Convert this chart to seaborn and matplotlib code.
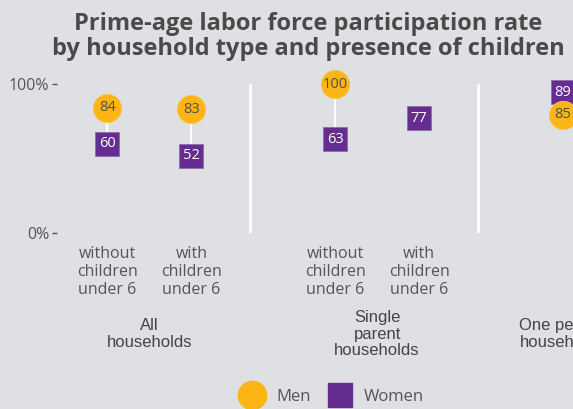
import numpy as np
import pandas as pd
import seaborn as sns
import matplotlib.pyplot as plt
import matplotlib.transforms as mtransforms
from matplotlib.lines import Line2D

# ---------------- data ----------------
groups = ["All\nhouseholds", "Single\nparent\nhouseholds", "One person\nhouseholds"]
col_labels = ["without\nchildren\nunder 6", "with\nchildren\nunder 6",
              "without\nchildren\nunder 6", "with\nchildren\nunder 6", ""]
group_idx = [0, 0, 1, 1, 2]
col_idx = [0, 1, 0, 1, 0]
men = [84, 83, 100, np.nan, 85]
women = [60, 52, 63, 77, 89]
y_ticks = [0, 100]
y_tick_labels = ["0%", "100%"]

# ---------------- style ----------------
BG = "#DFE0E3"
GOLD = "#FDB515"
PURPLE = "#662D91"
TXT = "#555555"
TITLE = "#4A4A4A"
FACET_STEP = 2.712
SEP_OFF = 1.70
MIN_GAP = 15.0

fig = plt.figure(figsize=(5.73, 4.09), dpi=100)
fig.patch.set_facecolor(BG)
ax = fig.add_axes([57 / 573, (409 - 233) / 409, (573 - 57) / 573, 149 / 409])
ax.set_facecolor(BG)

xpos = [g * FACET_STEP + c for g, c in zip(group_idx, col_idx)]

# nudge overlapping markers apart (display positions only)
men_y, women_y = [], []
for m, w in zip(men, women):
    if not np.isnan(m) and abs(m - w) < MIN_GAP:
        mid = (m + w) / 2
        sgn = 1 if w >= m else -1
        women_y.append(mid + sgn * MIN_GAP / 2)
        men_y.append(mid - sgn * MIN_GAP / 2)
    else:
        men_y.append(m)
        women_y.append(w)

df_w = pd.DataFrame({"x": xpos, "y": women_y, "v": women})
df_m = pd.DataFrame({"x": xpos, "y": men_y, "v": men}).dropna()

# separators
ax.vlines([g * FACET_STEP + SEP_OFF for g in range(2)], 0, 100,
          color="white", lw=2, zorder=0)
# connectors
for x, m, w in zip(xpos, men_y, women_y):
    if not np.isnan(m):
        ax.vlines(x, min(m, w), max(m, w), color="white", lw=1.5, zorder=1)

sns.scatterplot(data=df_w, x="x", y="y", marker="s", s=24.7 ** 2 * 0.5184,
                color=PURPLE, edgecolor="#8E6AAE", linewidth=0.6, ax=ax,
                zorder=3, clip_on=False, legend=False)
sns.scatterplot(data=df_m, x="x", y="y", marker="o", s=28.3 ** 2 * 0.5184,
                color=GOLD, edgecolor="#FCC64A", linewidth=0.6, ax=ax,
                zorder=4, clip_on=False, legend=False)

for _, r in df_w.iterrows():
    ax.text(r.x, r.y, f"{r.v:.0f}", ha="center", va="center", fontsize=10.5,
            color="white", family="Open Sans", zorder=5, clip_on=False)
for _, r in df_m.iterrows():
    ax.text(r.x, r.y, f"{r.v:.0f}", ha="center", va="center", fontsize=10.5,
            color="#505050", family="Open Sans", zorder=6, clip_on=False)

ax.set_xlim(-0.599, 5.544)
ax.set_ylim(0, 100)
for s in ax.spines.values():
    s.set_visible(False)
ax.set_xlabel("")
ax.set_ylabel("")

ax.set_yticks(y_ticks)
ax.set_yticklabels(y_tick_labels, family="Open Sans")
ax.tick_params(axis="y", length=3.5, width=1, color=TXT, pad=2,
               labelsize=11.5, labelcolor=TXT)
ax.set_xticks(xpos)
ax.set_xticklabels(col_labels, family="Open Sans")
ax.tick_params(axis="x", length=0, pad=9, labelsize=11.5, labelcolor=TXT)

trans = mtransforms.blended_transform_factory(ax.transData, fig.transFigure)
for g, lab in enumerate(groups):
    xs = [x for x, gi in zip(xpos, group_idx) if gi == g]
    ax.text(np.mean(xs), (409 - 334) / 409, lab, transform=trans, ha="center",
            va="center", fontsize=12, family="Liberation Sans", color="#444444",
            linespacing=1.1, clip_on=False)

fig.text(308 / 573, (409 - 30) / 409, "Prime-age labor force participation rate",
         ha="center", va="baseline", fontsize=17, fontweight="bold",
         family="Open Sans", color=TITLE)
fig.text(308 / 573, (409 - 55) / 409, "by household type and presence of children",
         ha="center", va="baseline", fontsize=17, fontweight="bold",
         family="Open Sans", color=TITLE)

handles = [Line2D([0], [0], marker="o", ls="none", markersize=20.4,
                  markerfacecolor=GOLD, markeredgecolor=GOLD),
           Line2D([0], [0], marker="s", ls="none", markersize=17.8,
                  markerfacecolor=PURPLE, markeredgecolor=PURPLE)]
leg = fig.legend(handles, ["Men", "Women"], loc="center",
                 bbox_to_anchor=(331 / 573, (409 - 397) / 409), ncol=2,
                 frameon=False, prop={"family": "Open Sans", "size": 12},
                 handlelength=1.7, handletextpad=0.6, columnspacing=0.9,
                 borderpad=0)
for t in leg.get_texts():
    t.set_color(TXT)

fig.savefig("out.png", dpi=100, facecolor=BG)
